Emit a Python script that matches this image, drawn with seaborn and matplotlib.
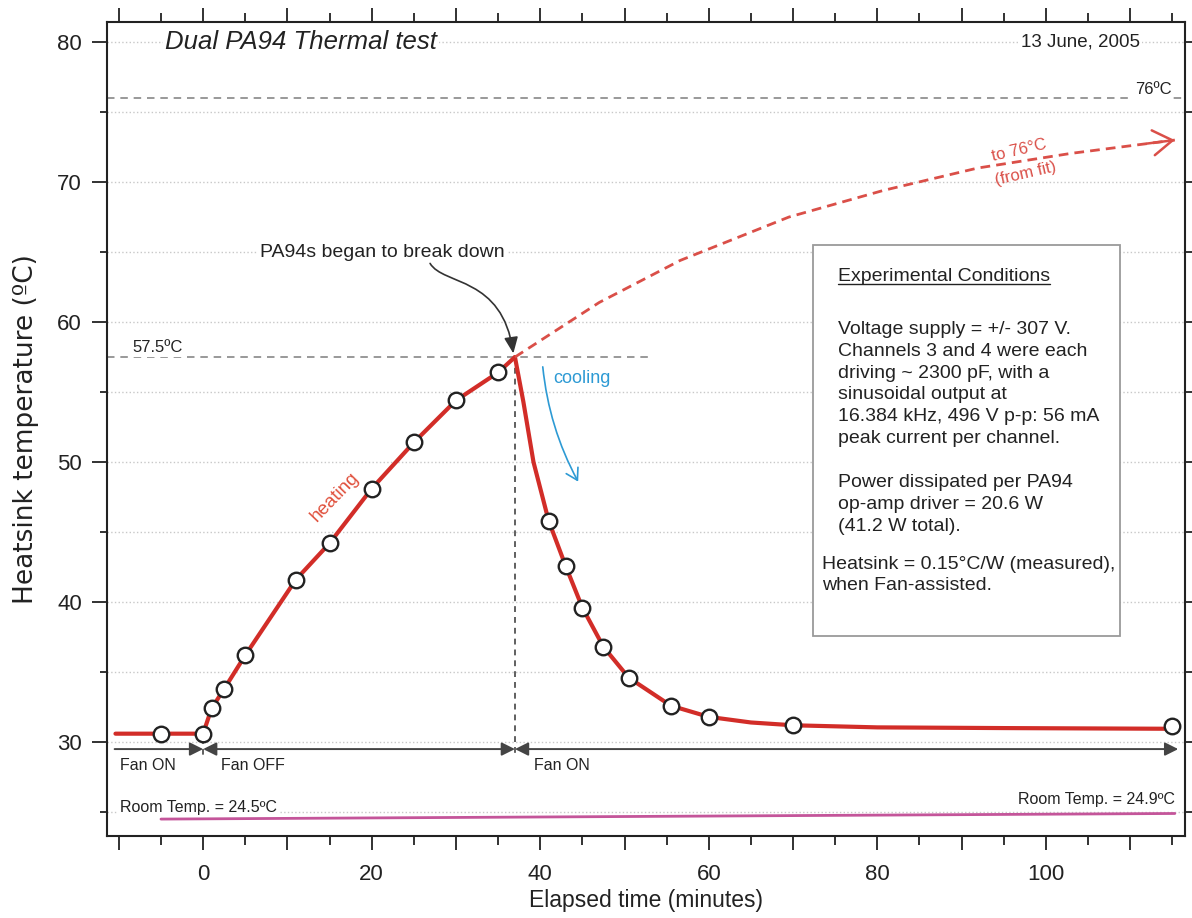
import numpy as np
import pandas as pd
import matplotlib
matplotlib.use('Agg')
import matplotlib.pyplot as plt
from matplotlib.ticker import MultipleLocator, FuncFormatter
from matplotlib.patches import Rectangle, FancyArrowPatch
from matplotlib.path import Path
import seaborn as sns

sns.set_theme(style='white')
plt.rcParams['font.family'] = ['Liberation Sans', 'DejaVu Sans']
plt.rcParams['text.color'] = '#222222'

# measured points (open circles): minutes, deg C
heat_t = [-5, 0, 1, 2.5, 5, 11, 15, 20, 25, 30, 35]
heat_T = [30.6, 30.6, 32.4, 33.8, 36.2, 41.6, 44.2, 48.1, 51.4, 54.4, 56.4]
cool_t = [41, 43, 45, 47.5, 50.5, 55.5, 60, 70, 115]
cool_T = [45.8, 42.6, 39.6, 36.8, 34.6, 32.6, 31.8, 31.2, 31.15]

# fitted curves
fit_heat_t = [-10.4, 0, 1, 2.5, 5, 11, 15, 20, 25, 30, 35, 37]
fit_heat_T = [30.6, 30.6, 32.4, 33.8, 36.2, 41.6, 44.2, 48.1, 51.4, 54.4, 56.4, 57.5]
fit_cool_t = [37, 38, 39.2, 41, 43, 45, 47.5, 50.5, 55.5, 60, 65, 70, 80, 95, 115]
fit_cool_T = [57.5, 54.3, 50.0, 45.8, 42.6, 39.6, 36.8, 34.6, 32.6, 31.8, 31.4, 31.2, 31.05, 31.0, 30.95]

# heating curve extrapolated from the fit (dashed)
extrap_t = [37, 47, 56.6, 69.5, 80.7, 91.9, 103, 115.3]
extrap_T = [57.5, 61.4, 64.4, 67.5, 69.4, 71.0, 72.05, 73.0]

# room temperature
room_t = [-5, 115.3]
room_T = [24.5, 24.9]

breakdown_t = 37
breakdown_T = 57.5
limit_T = 76
fan_edges = [-10.5, 0, 37, 115.7]
fan_labels = ['Fan ON', 'Fan OFF', 'Fan ON']

red = '#d22d28'
red_light = '#da4f48'
blue = '#2d9ad4'
ink = '#222222'

fig = plt.figure(figsize=(11.92, 9.18), dpi=100)
ax = fig.add_axes([0.0898, 0.0893, 0.9043, 0.8867])

# curves
sns.lineplot(x=fit_heat_t, y=fit_heat_T, ax=ax, color=red, lw=3, estimator=None, zorder=3)
sns.lineplot(x=fit_cool_t, y=fit_cool_T, ax=ax, color=red, lw=3, estimator=None, zorder=3)
sns.lineplot(x=extrap_t, y=extrap_T, ax=ax, color=red_light, lw=2, estimator=None, zorder=3)
ax.lines[-1].set_dashes([3.5, 2.2])
ax.annotate('', xy=(extrap_t[-1], extrap_T[-1]), xytext=(112, 72.75),
            arrowprops=dict(arrowstyle='->,head_length=0.7,head_width=0.45', color=red_light,
                            lw=1.8, shrinkA=0, shrinkB=0, mutation_scale=20), zorder=3)
sns.lineplot(x=room_t, y=room_T, ax=ax, color='#c4559a', lw=2, estimator=None, zorder=3)

# markers
sns.scatterplot(x=heat_t + cool_t, y=heat_T + cool_T, ax=ax, s=125, color='white',
                edgecolor=ink, linewidth=1.7, zorder=5)

# reference lines
ax.axhline(limit_T, color='#888888', lw=1.2, dashes=(4.5, 3.5), zorder=2)
ax.plot([-11.4, 53.3], [breakdown_T, breakdown_T], color='#888888', lw=1.2, dashes=(4.5, 3.5), zorder=2)
ax.plot([breakdown_t, breakdown_t], [breakdown_T, 29.0], color='#444444', lw=1.2, dashes=(3.5, 3), zorder=2)
ax.plot([0, 0], [30.3, 29.0], color='#444444', lw=1.2, dashes=(3.5, 3), zorder=2)

# fan state arrows
arrow_styles = ['-|>', '<|-|>', '<|-|>']
for i, lab in enumerate(fan_labels):
    ax.annotate('', xy=(fan_edges[i + 1], 29.5), xytext=(fan_edges[i], 29.5),
                arrowprops=dict(arrowstyle=arrow_styles[i] + ',head_length=0.5,head_width=0.25',
                                color='#444444', lw=1.4, shrinkA=0, shrinkB=0, mutation_scale=16))
for x0, lab in zip([-9.85, 2.1, 39.3], fan_labels):
    ax.text(x0, 28.3, lab, fontsize=11.5, va='center', ha='left', color=ink)

# text labels
wbox = dict(facecolor='white', edgecolor='none', pad=1.5)
ax.text(-4.5, 80.0, 'Dual PA94 Thermal test', fontsize=18.5, style='italic', va='center', bbox=wbox)
ax.text(111.2, 80.0, '13 June, 2005', fontsize=13.5, ha='right', va='center', bbox=wbox)
ax.text(114.9, 76.6, '76ºC', fontsize=12, ha='right', va='center', bbox=wbox)
ax.text(-8.35, 58.2, '57.5ºC', fontsize=12, ha='left', va='center', bbox=wbox)
ax.text(-9.85, 25.3, 'Room Temp. = 24.5ºC', fontsize=11.5, va='center', bbox=wbox)
ax.text(115.3, 25.9, 'Room Temp. = 24.9ºC', fontsize=11.5, ha='right', va='center', bbox=wbox)
ax.text(96.8, 72.3, 'to 76°C', fontsize=12, color=red_light, rotation=13, ha='center', va='center')
ax.text(97.6, 70.6, '(from fit)', fontsize=12, color=red_light, rotation=13, ha='center', va='center')
ax.text(15.7, 47.5, 'heating', fontsize=13.5, color='#e0503c', rotation=46, ha='center', va='center')
ax.text(41.5, 56.0, 'cooling', fontsize=13, color=blue, ha='left', va='center')
ax.annotate('', xy=(44.5, 48.6), xytext=(40.3, 56.8),
            arrowprops=dict(arrowstyle='->,head_length=0.5,head_width=0.3', color=blue, lw=1.2,
                            shrinkA=0, shrinkB=0, mutation_scale=16, connectionstyle='arc3,rad=0.1'))

ax.text(6.76, 65.0, 'PA94s began to break down', fontsize=14, va='center', ha='left', bbox=wbox, zorder=4)
bz = Path([(26.93, 64.19), (28.5, 62.6), (35.5, 63.3), (36.81, 57.76)],
          [Path.MOVETO, Path.CURVE4, Path.CURVE4, Path.CURVE4])
ax.add_patch(FancyArrowPatch(path=bz, arrowstyle='-|>,head_length=0.7,head_width=0.3',
                             mutation_scale=14, color='#333333', lw=1.2, transform=ax.transData, zorder=4))

# conditions box
ax.add_patch(Rectangle((72.4, 37.6), 36.4, 27.9, facecolor='white', edgecolor='#9a9a9a', lw=1.3, zorder=4))
title_txt = ax.text(75.3, 62.95, 'Experimental Conditions', fontsize=14, va='baseline', zorder=5)
step = 1.55
para1 = ['Voltage supply = +/- 307 V.', 'Channels 3 and 4 were each', 'driving ~ 2300 pF, with a',
         'sinusoidal output at', '16.384 kHz, 496 V p-p: 56 mA', 'peak current per channel.']
para2 = ['Power dissipated per PA94', 'op-amp driver = 20.6 W', '(41.2 W total).']
para3 = ['Heatsink = 0.15°C/W (measured),', 'when Fan-assisted.']
for lines, x0, y0 in [(para1, 75.3, 59.14), (para2, 75.3, 48.2), (para3, 73.4, 42.38)]:
    for k, s in enumerate(lines):
        ax.text(x0, y0 - k * step, s, fontsize=14, va='baseline', zorder=5)

# axes styling
ax.set_xlim(-11.4, 116.5)
ax.set_ylim(23.29, 81.43)
ax.xaxis.set_major_locator(MultipleLocator(10))
ax.xaxis.set_minor_locator(MultipleLocator(5))
ax.xaxis.set_major_formatter(FuncFormatter(lambda v, p: f'{v:.0f}' if round(v) % 20 == 0 else ''))
ax.yaxis.set_major_locator(MultipleLocator(10))
ax.yaxis.set_minor_locator(MultipleLocator(5))
ax.set_axisbelow(True)
ax.yaxis.grid(True, which='both', color='#c8c8c8', lw=1, linestyle=':')
ax.xaxis.grid(False)
for sp in ax.spines.values():
    sp.set_color(ink)
    sp.set_linewidth(1.5)
ax.tick_params(which='both', direction='out', top=True, right=True, bottom=True, left=True,
               labeltop=False, labelright=False, color=ink, width=1.3, labelcolor=ink, labelsize=16)
ax.tick_params(axis='y', which='major', length=11, pad=7)
ax.tick_params(axis='y', which='minor', length=5)
ax.tick_params(axis='x', which='major', length=10, pad=10)
ax.tick_params(axis='x', which='minor', length=6.5)
ax.set_xlabel('Elapsed time (minutes)', fontsize=16.5, color=ink, labelpad=3)
ax.set_ylabel('Heatsink temperature (ºC)', fontsize=19, color=ink, labelpad=13, family='DejaVu Sans')

# underline for the box heading
fig.canvas.draw()
bb = title_txt.get_window_extent(fig.canvas.get_renderer())
inv = ax.transData.inverted()
(ux0, _), (ux1, _) = inv.transform([(bb.x0, bb.y0), (bb.x1, bb.y0)])
ax.plot([ux0, ux1], [62.75, 62.75], color=ink, lw=1, zorder=5)

fig.savefig('out.png', dpi=100)
